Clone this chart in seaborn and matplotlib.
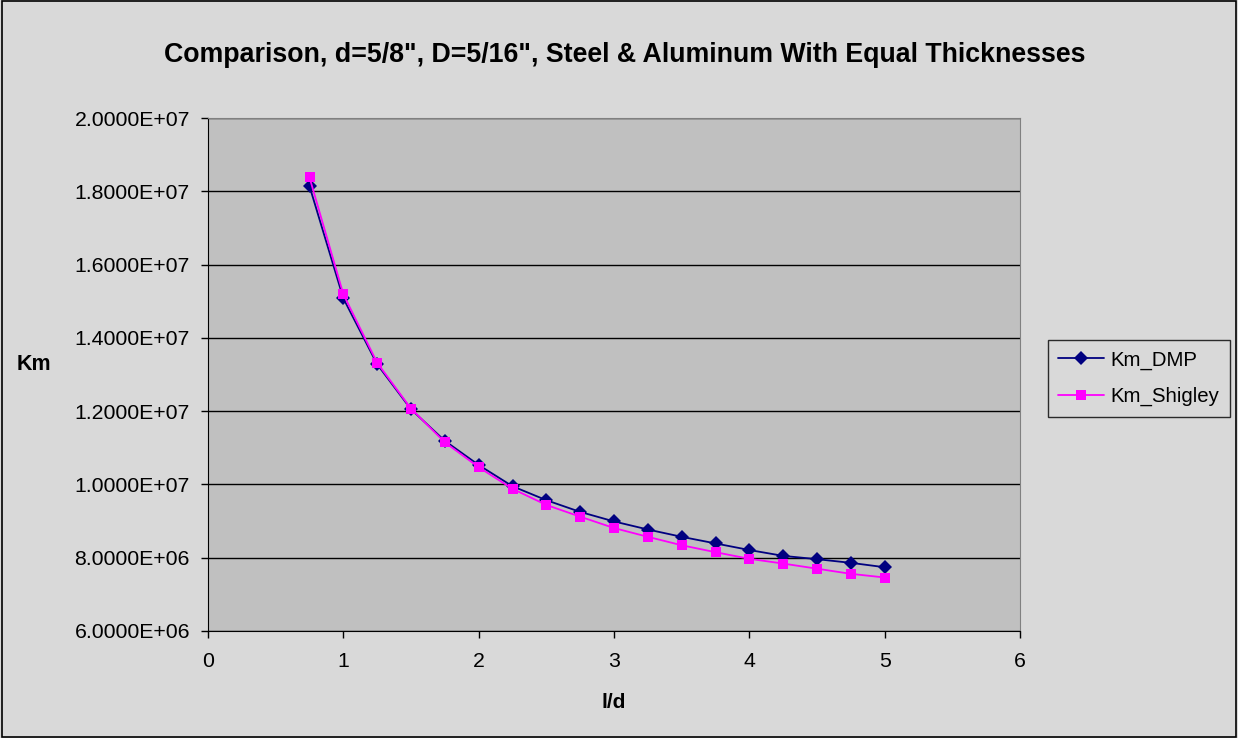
import matplotlib
matplotlib.use("Agg")
import matplotlib.pyplot as plt
import matplotlib.ticker as mticker
import seaborn as sns
import pandas as pd

ld = [0.75, 1.0, 1.25, 1.5, 1.75, 2.0, 2.25, 2.5, 2.75, 3.0, 3.25, 3.5, 3.75, 4.0, 4.25, 4.5, 4.75, 5.0]
km_dmp = [18.14e6, 15.08e6, 13.28e6, 12.05e6, 11.19e6, 10.53e6, 9.95e6, 9.57e6, 9.25e6,
          8.99e6, 8.77e6, 8.57e6, 8.39e6, 8.21e6, 8.05e6, 7.96e6, 7.86e6, 7.74e6]
km_shigley = [18.38e6, 15.19e6, 13.32e6, 12.07e6, 11.15e6, 10.47e6, 9.88e6, 9.44e6, 9.12e6,
              8.81e6, 8.57e6, 8.34e6, 8.15e6, 7.97e6, 7.84e6, 7.70e6, 7.56e6, 7.46e6]
series_names = ["Km_DMP", "Km_Shigley"]
title = "Comparison, d=5/8\", D=5/16\", Steel & Aluminum With Equal Thicknesses"

df = pd.DataFrame({
    "l/d": ld * 2,
    "Km": km_dmp + km_shigley,
    "series": [series_names[0]] * len(ld) + [series_names[1]] * len(ld),
})

sns.set_style("white")
plt.rcParams["font.family"] = ["Liberation Sans", "DejaVu Sans"]
plt.rcParams["text.color"] = "black"
plt.rcParams["axes.labelcolor"] = "black"
plt.rcParams["xtick.color"] = "black"
plt.rcParams["ytick.color"] = "black"

fig = plt.figure(figsize=(12.38, 7.38), dpi=100, facecolor="#D9D9D9")
ax = fig.add_axes([0.168, 0.145, 0.656, 0.695])
ax.set_facecolor("#C0C0C0")

sns.lineplot(data=df, x="l/d", y="Km", hue="series", style="series",
             palette={"Km_DMP": "#000080", "Km_Shigley": "#FF00FF"},
             markers={"Km_DMP": "D", "Km_Shigley": "s"},
             dashes=False, markersize=7, linewidth=1.3, markeredgewidth=0,
             ax=ax, legend=True)

ax.set_xlim(0, 6)
ax.set_ylim(6e6, 2e7)
ax.set_xticks(range(0, 7))
ax.set_yticks([6e6 + 2e6 * i for i in range(8)])
ax.yaxis.set_major_formatter(mticker.FuncFormatter(lambda v, p: "%.4E" % v))
ax.grid(axis="y", color="black", linewidth=1)
ax.grid(axis="x", visible=False)
ax.tick_params(axis="both", direction="out", length=5, width=1, color="black",
               labelsize=15.3, left=True, bottom=True)
ax.tick_params(axis="y", pad=8)
ax.tick_params(axis="x", pad=10)
for s in ["top", "right"]:
    ax.spines[s].set_color("#808080")
for s in ["left", "bottom"]:
    ax.spines[s].set_color("black")

ax.set_xlabel("l/d", fontsize=15, fontweight="bold")
ax.xaxis.set_label_coords(0.5, -0.12)
ax.set_ylabel("Km", fontsize=15.5, fontweight="bold", rotation=0)
ax.yaxis.set_label_coords(-0.2145, 0.5)
fig.text(0.505, 0.925, title, ha="center", va="center", fontsize=19.3, fontweight="bold")

leg = ax.legend(loc="center left", bbox_to_anchor=(1.034, 0.493), frameon=True,
                fancybox=False, edgecolor="black", facecolor="#D9D9D9",
                fontsize=14.7, handlelength=2.25, handletextpad=0.3,
                borderpad=0.52, labelspacing=0.84, borderaxespad=0)
leg.get_frame().set_linewidth(1)

fig.patches.append(plt.Rectangle((0.002, 0.002), 0.996, 0.996, transform=fig.transFigure,
                                 fill=False, edgecolor="black", linewidth=1.2))
fig.savefig("out.png", dpi=100, facecolor=fig.get_facecolor())
